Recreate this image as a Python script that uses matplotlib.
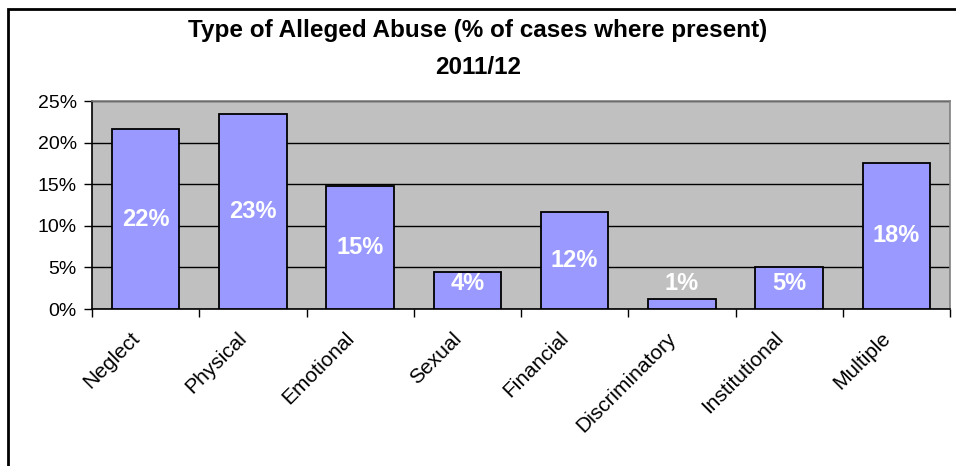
import matplotlib
matplotlib.use("Agg")
import matplotlib.pyplot as plt
import matplotlib.transforms as mtransforms
from matplotlib.ticker import FixedLocator, PercentFormatter
from matplotlib.patches import Rectangle

plt.rcParams['font.family'] = ['Liberation Sans', 'DejaVu Sans']

# Data
categories = ["Neglect", "Physical", "Emotional", "Sexual", "Financial",
              "Discriminatory", "Institutional", "Multiple"]
values = [21.6, 23.4, 14.8, 4.4, 11.7, 1.2, 5.0, 17.6]
y_ticks = [0, 5, 10, 15, 20, 25]
title = "Type of Alleged Abuse (% of cases where present)\n2011/12"

fig = plt.figure(figsize=(9.56, 4.66), dpi=100)
fig.patch.set_facecolor("white")

# outer chart border (only the top and left edges are visible in the picture)
fig.patches.append(Rectangle((8 / 956, -0.1), 1.2, 1 - 9 / 466 + 0.1,
                             transform=fig.transFigure, fill=False,
                             edgecolor="black", linewidth=2))

ax = fig.add_axes([92 / 956, 157 / 466, 858 / 956, 208 / 466])
ax.set_facecolor("#C0C0C0")

x = list(range(len(categories)))
ax.bar(x, values, width=0.63, color="#9999FF", edgecolor="black",
       linewidth=1.3, zorder=3)

for xi, v in zip(x, values):
    ax.text(xi, max(v / 2, 3.1), f"{round(v):d}%", ha="center", va="center",
            color="white", fontsize=17, fontweight="bold", zorder=4)

ax.set_xlim(-0.5, len(categories) - 0.5)
ax.set_ylim(0, 25)
ax.yaxis.set_major_locator(FixedLocator(y_ticks))
ax.yaxis.set_major_formatter(PercentFormatter(decimals=0))
ax.grid(axis="y", color="black", linewidth=1, zorder=1)

ax.set_xticks(x)
ax.set_xticklabels(categories, rotation=45, ha="right", va="center",
                   rotation_mode="anchor")
ax.set_xticks([i - 0.5 for i in range(len(categories) + 1)], minor=True)
ax.tick_params(axis="x", which="major", length=0, pad=19, labelsize=15)
ax.tick_params(axis="x", which="minor", length=6, width=1, direction="out")
ax.tick_params(axis="y", length=6, width=1, direction="out", labelsize=14, pad=5)

shift = mtransforms.ScaledTranslation(-9 / 100, 0, fig.dpi_scale_trans)
for lab in ax.get_xticklabels():
    lab.set_transform(lab.get_transform() + shift)

for side in ("top", "right"):
    ax.spines[side].set_color("#808080")
    ax.spines[side].set_linewidth(1.2)
for side in ("left", "bottom"):
    ax.spines[side].set_color("black")
    ax.spines[side].set_linewidth(1.2)

fig.text(0.5, 1 - 49 / 466, title, ha="center", va="center",
         fontsize=17.5, fontweight="bold", linespacing=1.8)

fig.savefig("out.png", dpi=100)
